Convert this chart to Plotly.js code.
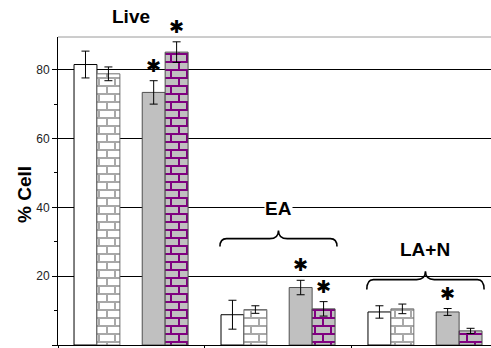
<!DOCTYPE html>
<html>
<head>
<meta charset="utf-8">
<script src="https://cdn.plot.ly/plotly-3.0.1.min.js"></script>
<style>
  html, body { margin: 0; padding: 0; background: #fff; overflow: hidden; }
  #chart { width: 491px; height: 348px; }
</style>
</head>
<body>
<div id="chart"></div>
<script>
// Cell populations (% of cells) per treatment, with error bars
const groups = ['Live', 'EA', 'LA+N'];
const seriesNames = ['Series 1', 'Series 2', 'Series 3', 'Series 4'];

const s1 = [81.5, 8.8, 9.6];
const s1Err = [3.9, 4.2, 1.8];
const s2 = [78.8, 10.3, 10.5];
const s2Err = [2.0, 1.1, 1.4];
const s3 = [73.4, 16.7, 9.6];
const s3Err = [3.4, 2.1, 1.0];
const s4 = [85.1, 10.5, 4.1];
const s4Err = [3.0, 2.1, 0.75];

// significance markers (asterisks) per group
const s3Sig = [true, true, true];
const s4Sig = [true, true, false];

const yTickVals = [0, 20, 40, 60, 80];
const yTickText = ['0', '20', '40', '60', '80'];
const yTitle = '% Cell';

const FONT = 'Arial, "Liberation Sans", sans-serif';
const gx = groups.map((_, i) => i);

const BAR_W = 0.156;
const seriesStyle = [
  { off: -0.391, fill: '#ffffff', line: '#000000' },
  { off: -0.235, fill: '#ffffff', line: '#6e6e6e' },
  { off:  0.073, fill: '#c0c0c0', line: '#505050' },
  { off:  0.229, fill: '#c0c0c0', line: '#4a4a4a' }
];
const values = [s1, s2, s3, s4];
const errors = [s1Err, s2Err, s3Err, s4Err];

const traces = values.map((v, k) => ({
  type: 'bar',
  name: seriesNames[k],
  x: gx,
  y: v,
  width: BAR_W,
  offset: seriesStyle[k].off,
  marker: { color: seriesStyle[k].fill, line: { color: seriesStyle[k].line, width: 1 } },
  error_y: { type: 'data', array: errors[k], visible: true, color: '#000', thickness: 1, width: 4 },
  hoverinfo: 'skip',
  showlegend: false
}));

// asterisks above significant bars
const annotations = [];
[[s3, s3Err, s3Sig, 2], [s4, s4Err, s4Sig, 3]].forEach(([v, e, sig, k]) => {
  sig.forEach((on, i) => {
    if (!on) return;
    annotations.push({
      x: gx[i] + seriesStyle[k].off + BAR_W / 2,
      y: v[i] + e[i],
      xref: 'x', yref: 'y',
      text: '✱',
      showarrow: false,
      yanchor: 'bottom',
      yshift: 3,
      font: { family: '"DejaVu Sans", sans-serif', size: 18, color: '#000' }
    });
  });
});

// group labels: the first sits above the plot area, so it is placed in paper units
const labelPos = [
  { yref: 'paper', y: 1.065 },
  { yref: 'y', y: 39.8 },
  { yref: 'y', y: 27.7 }
];
groups.forEach((g, i) => {
  annotations.push({
    x: gx[i], xref: 'x', yref: labelPos[i].yref, y: labelPos[i].y,
    xanchor: 'center', yanchor: 'middle',
    text: g, showarrow: false,
    bgcolor: i === 1 ? '#ffffff' : 'rgba(0,0,0,0)',
    borderpad: 0,
    font: { family: FONT, size: 19, color: '#000', weight: 'bold' }
  });
});

// y-axis title, rotated, left of the tick labels
annotations.push({
  xref: 'paper', yref: 'paper', x: 0, y: 0.487,
  xanchor: 'center', yanchor: 'middle', xshift: -34,
  text: yTitle, textangle: -90, showarrow: false,
  font: { family: FONT, size: 19, color: '#000', weight: 'bold' }
});

// curly brace over a group
function bracePath(xc, hw, yLine, dEnd, dTip) {
  const cx = 0.045, tx = 0.06;
  const xl = xc - hw, xr = xc + hw;
  return `M ${xl},${yLine - dEnd} Q ${xl},${yLine} ${xl + cx},${yLine} ` +
         `L ${xc - tx},${yLine} Q ${xc},${yLine} ${xc},${yLine + dTip} ` +
         `Q ${xc},${yLine} ${xc + tx},${yLine} L ${xr - cx},${yLine} ` +
         `Q ${xr},${yLine} ${xr},${yLine - dEnd}`;
}

const shapes = [
  { type: 'line', xref: 'paper', yref: 'paper', x0: 0, x1: 1, y0: 1, y1: 1,
    line: { color: '#9a9a9a', width: 1 } },
  { type: 'path', xref: 'x', yref: 'y', path: bracePath(gx[1], 0.398, 30.9, 2.3, 2.4),
    line: { color: '#000', width: 1.6 } },
  { type: 'path', xref: 'x', yref: 'y', path: bracePath(gx[2], 0.399, 19.0, 2.9, 2.4),
    line: { color: '#000', width: 1.6 } }
];

const layout = {
  width: 491, height: 348,
  margin: { l: 58, r: 0, t: 37, b: 3 },
  paper_bgcolor: '#fff', plot_bgcolor: '#fff',
  barmode: 'overlay',
  showlegend: false,
  font: { family: FONT, color: '#000' },
  xaxis: {
    type: 'linear',
    range: [-0.5, 2.446],
    tickvals: [-0.5, 0.5, 1.5],
    ticks: 'outside', ticklen: 4, tickcolor: '#000',
    showticklabels: false,
    showgrid: false, zeroline: false,
    showline: true, linecolor: '#000', linewidth: 1
  },
  yaxis: {
    range: [0, 89.5],
    tickmode: 'array', tickvals: yTickVals, ticktext: yTickText,
    ticks: 'outside', ticklen: 5, tickcolor: '#000',
    minor: { tickmode: 'linear', tick0: 0, dtick: 10, ticks: 'outside', ticklen: 3, tickcolor: '#000', showgrid: false },
    tickfont: { family: FONT, size: 12, color: '#222' },
    showgrid: true, gridcolor: '#000', gridwidth: 1,
    zeroline: false,
    showline: true, linecolor: '#000', linewidth: 1
  },
  annotations: annotations,
  shapes: shapes
};

// brick fills for the patterned series
function brickPattern(svg, id, brick, mortar) {
  const NS = 'http://www.w3.org/2000/svg';
  let defs = svg.querySelector('defs');
  if (!defs) { defs = document.createElementNS(NS, 'defs'); svg.insertBefore(defs, svg.firstChild); }
  const p = document.createElementNS(NS, 'pattern');
  p.setAttribute('id', id);
  p.setAttribute('patternUnits', 'userSpaceOnUse');
  p.setAttribute('width', 16);
  p.setAttribute('height', 16);
  const rects = [
    [0, 0, 16, 16, brick],
    [0, 0, 16, 2, mortar],
    [0, 8, 16, 2, mortar],
    [0, 0, 2, 8, mortar],
    [8, 8, 2, 8, mortar]
  ];
  rects.forEach(([x, y, w, h, c]) => {
    const r = document.createElementNS(NS, 'rect');
    r.setAttribute('x', x); r.setAttribute('y', y);
    r.setAttribute('width', w); r.setAttribute('height', h);
    r.setAttribute('fill', c);
    p.appendChild(r);
  });
  defs.appendChild(p);
}

Plotly.newPlot('chart', traces, layout, { displayModeBar: false, staticPlot: true }).then(gd => {
  const svg = gd.querySelector('svg.main-svg');
  brickPattern(svg, 'brickGray', '#ffffff', '#a8a8a8');
  brickPattern(svg, 'brickPurple', '#c0c0c0', '#800080');
  const traceGroups = gd.querySelectorAll('.barlayer .trace');
  const fills = { 1: 'url(#brickGray)', 3: 'url(#brickPurple)' };
  traceGroups.forEach((tg, k) => {
    if (!fills[k]) return;
    tg.querySelectorAll('.point path').forEach(p => { p.style.fill = fills[k]; });
  });
});
</script>
</body>
</html>
